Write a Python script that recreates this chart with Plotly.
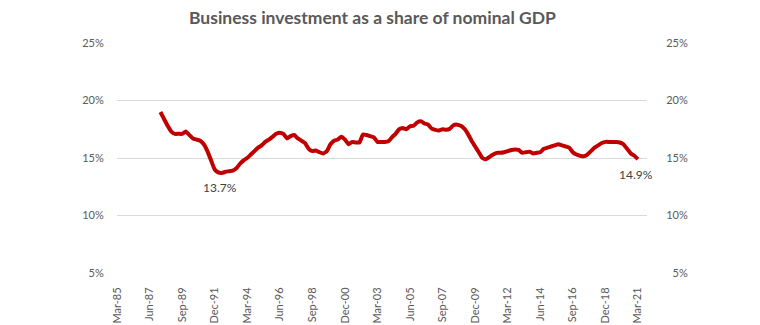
import pandas as pd
import plotly.graph_objects as go

# Quarterly business investment share of nominal GDP (%), Mar-88 .. Mar-21
start_quarter = "1988-03-31"
values = [
    19.0, 18.4, 17.8, 17.3, 17.1, 17.1, 17.1, 17.3, 17.0, 16.7,
    16.6, 16.5, 16.2, 15.6, 14.8, 14.0, 13.75, 13.7, 13.8, 13.85,
    13.9, 14.1, 14.5, 14.8, 15.0, 15.3, 15.6, 15.9, 16.1, 16.4,
    16.6, 16.85, 17.1, 17.2, 17.1, 16.7, 16.9, 17.0, 16.7, 16.5,
    16.3, 15.8, 15.6, 15.65, 15.5, 15.4, 15.6, 16.2, 16.5, 16.6,
    16.85, 16.6, 16.2, 16.4, 16.35, 16.35, 17.05, 17.0, 16.9, 16.8,
    16.4, 16.4, 16.4, 16.45, 16.8, 17.1, 17.5, 17.6, 17.5, 17.75,
    17.8, 18.1, 18.2, 18.0, 17.9, 17.55, 17.45, 17.4, 17.5, 17.45,
    17.55, 17.85, 17.9, 17.8, 17.55, 17.1, 16.5, 16.0, 15.5, 15.0,
    14.9, 15.1, 15.3, 15.45, 15.45, 15.5, 15.6, 15.7, 15.75, 15.7,
    15.45, 15.5, 15.55, 15.4, 15.45, 15.5, 15.8, 15.9, 16.0, 16.1,
    16.2, 16.1, 16.0, 15.9, 15.5, 15.3, 15.2, 15.15, 15.3, 15.6,
    15.9, 16.1, 16.3, 16.4, 16.4, 16.4, 16.4, 16.35, 16.2, 15.8,
    15.4, 15.2, 14.9,
]
dates = pd.date_range(start_quarter, periods=len(values), freq="QE")

tick_dates = pd.date_range("1985-03-31", "2021-03-31", freq="9QE")
tick_text = [d.strftime("%b-%y") for d in tick_dates]

y_ticks = [5, 10, 15, 20, 25]
y_text_left = ["5%", "10%", "15%", "20%", "25%"]
y_text_right = ["\u20075%", "10%", "15%", "20%", "25%"]

min_label = "13.7%"
min_value = 13.7
last_label = "14.9%"

RED = "#C00000"
GREY = "#595959"
FONT = "Lato"

fig = go.Figure()
fig.add_trace(go.Scatter(
    x=dates, y=values, mode="lines",
    line=dict(color=RED, width=4, shape="spline", smoothing=0.4),
    hoverinfo="skip", showlegend=False,
))
fig.add_trace(go.Scatter(
    x=[dates[0]], y=[values[0]], yaxis="y2", mode="markers",
    marker=dict(opacity=0), hoverinfo="skip", showlegend=False,
))

min_idx = values.index(min_value)
fig.add_annotation(x=dates[min_idx], y=values[min_idx], text=min_label,
                   showarrow=False, yshift=-15, xshift=-2,
                   font=dict(family=FONT, size=12, color="#404040"))
fig.add_annotation(x=dates[-1], y=values[-1], text=last_label,
                   showarrow=False, yshift=-15, xshift=-2,
                   font=dict(family=FONT, size=12, color="#404040"))

x_range = [pd.Timestamp("1985-03-31"), pd.Timestamp("2021-11-15")]

fig.update_layout(
    width=760, height=325,
    margin=dict(l=117, r=113, t=43, b=52),
    paper_bgcolor="white", plot_bgcolor="white",
    title=dict(text="<b>Business investment as a share of nominal GDP</b>",
               x=0.49, xanchor="center", y=0.945, yanchor="middle",
               font=dict(family=FONT, size=17.5, color=GREY)),
    xaxis=dict(
        range=x_range, tickvals=tick_dates, ticktext=tick_text,
        tickangle=-90, showgrid=False, zeroline=False, automargin=False,
        showline=False, ticks="outside", ticklen=9, tickcolor="rgba(0,0,0,0)",
        tickfont=dict(family=FONT, size=11, color=GREY),
    ),
    yaxis=dict(
        range=[5, 25], tickvals=y_ticks, ticktext=y_text_left,
        showgrid=True, gridcolor="#D9D9D9", gridwidth=1, automargin=False,
        zeroline=False, showline=False,
        ticks="outside", ticklen=10, tickcolor="rgba(0,0,0,0)",
        tickfont=dict(family=FONT, size=11, color=GREY),
    ),
    yaxis2=dict(
        range=[5, 25], tickvals=y_ticks, ticktext=y_text_right,
        overlaying="y", side="right", showgrid=False, zeroline=False,
        automargin=False,
        showline=False, ticks="outside", ticklen=16, tickcolor="rgba(0,0,0,0)",
        tickfont=dict(family=FONT, size=11, color=GREY),
    ),
)

fig.write_html("out.html")
